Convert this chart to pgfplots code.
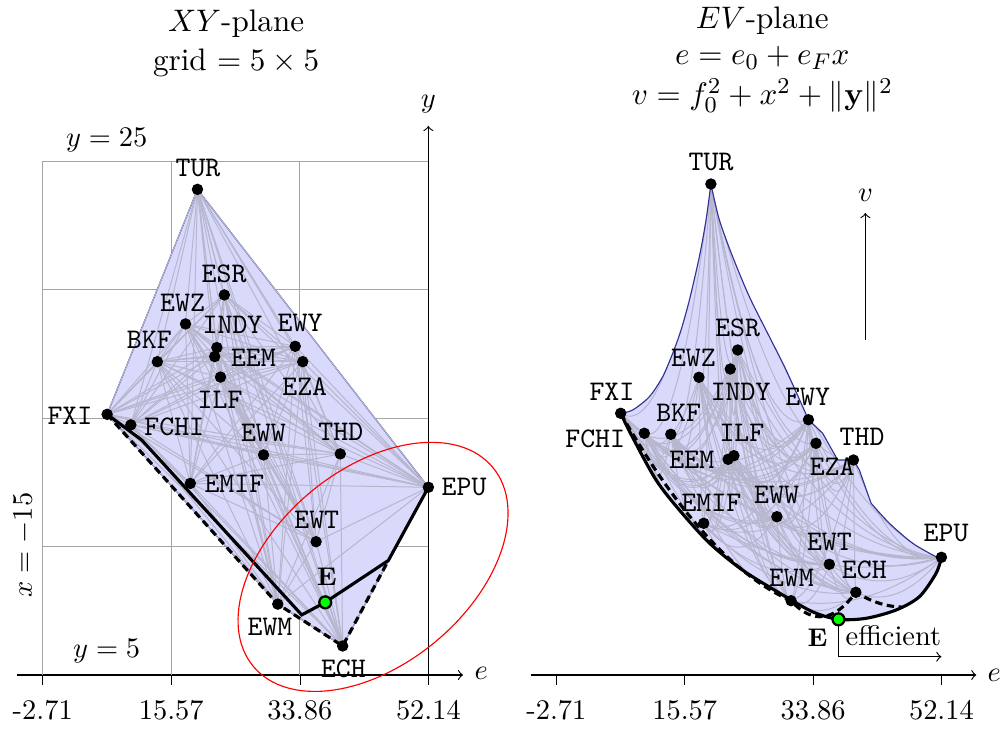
\documentclass[border=0pt]{standalone}
\usepackage{pgfplots}
\pgfplotsset{compat=1.18}
\usepackage{pgfplotstable}
\definecolor{hullfill}{RGB}{217,217,252}
\definecolor{hulldraw}{RGB}{50,50,150}
\definecolor{webc}{RGB}{182,182,205}
\definecolor{gridc}{RGB}{165,165,165}
\definecolor{Egreen}{RGB}{0,255,0}

% name, e (horizontal), y (XY-plane vertical), w (EV-plane vertical, v)
\pgfplotstableread{
name e y w
TUR 19.30 23.91 491
ESR 23.12 19.80 325
EWZ 17.60 18.67 297.7
INDY 22.06 17.75 306
EEM 21.75 17.40 215.7
BKF 13.59 17.20 240.7
ILF 22.58 16.60 219.3
EWY 33.20 17.80 255.3
EZA 34.27 17.20 231.7
FXI 6.45 15.15 261.7
FCHI 9.82 14.74 241.7
EWW 28.70 13.57 158.3
THD 39.61 13.61 215
EMIF 18.28 12.46 151.7
EPU 52.14 12.31 117.7
EWT 36.17 10.19 110.7
EWM 30.72 7.76 74.3
ECH 39.95 6.13 82.7
}\assets

\newcommand\getA[3]{\pgfplotstablegetelem{#1}{#2}\of{\assets}\let#3\pgfplotsretval}

\tikzset{lbl/.style={font=\ttfamily, inner sep=0pt},
  thickl/.style={black, line width=1.1pt},
  dashl/.style={black, line width=1.1pt, dash pattern=on 2.6pt off 1.6pt}}

\begin{document}
\begin{tikzpicture}
\path (0,0) rectangle (353.06pt,255.55pt);

% ================= LEFT: XY-plane =================
\begin{axis}[anchor=south west, at={(5.88pt,17.95pt)},
  x=2.475pt, y=9.04pt, xmin=-6.41, xmax=57.08, ymin=5, ymax=26.4,
  axis x line=bottom, axis y line=none, x axis line style={->},
  xtick={-2.71,15.57,33.86,52.14}, xticklabels={-2.71,15.57,33.86,52.14},
  tick align=outside, major tick length=3.5pt, xtick style={black},
  xticklabel shift=2pt,
  clip=false]
% grid
\draw[gridc] (-2.71,5) -- (-2.71,25);
\draw[gridc] (15.57,5) -- (15.57,25);
\draw[gridc] (33.86,5) -- (33.86,25);
\draw[gridc] (-2.71,10) -- (52.14,10);
\draw[gridc] (-2.71,15) -- (52.14,15);
\draw[gridc] (-2.71,20) -- (52.14,20);
\draw[gridc] (-2.71,25) -- (52.14,25);
\draw[->] (52.14,5) -- (52.14,26.38);
% hull
\addplot[fill=hullfill, draw=hulldraw, line width=0.4pt] coordinates {(6.45,15.15) (19.30,23.91) (52.14,12.31) (39.95,6.13) (30.72,7.76)} -- cycle;
% web
\foreach \i in {0,...,16}{
  \pgfmathtruncatemacro\js{\i+1}
  \foreach \j in {\js,...,17}{
    \getA{\i}{e}\ei \getA{\i}{y}\yi \getA{\j}{e}\ej \getA{\j}{y}\yj
    \edef\temp{\noexpand\draw[webc, line width=0.35pt] (axis cs:\ei,\yi) -- (axis cs:\ej,\yj);}\temp
  }
}
\coordinate (ellc) at (44.27,9.21);
% paths
\addplot[thickl] coordinates {(6.45,15.15) (11.37,14.15) (34.13,7.34) (37.47,7.83) (46.45,9.46) (52.14,12.31)};
\addplot[dashl] coordinates {(6.45,15.15) (30.72,7.76) (39.95,6.13) (46.45,9.46)};
% points
\addplot[only marks, mark=*, mark size=1.8pt, black] table[x=e,y=y]{\assets};
\addplot[only marks, mark=*, mark size=2.1pt, mark options={fill=Egreen, draw=black, line width=0.8pt}] coordinates {(37.47,7.83)};
% labels
\node[lbl] at (19.38,24.74) {TUR};
\node[lbl] at (23.08,20.64) {ESR};
\node[lbl] at (17.18,19.50) {EWZ};
\node[lbl] at (24.29,18.63) {INDY};
\node[lbl] at (33.89,18.70) {EWY};
\node[lbl] at (12.45,18.05) {BKF};
\node[lbl] at (27.25,17.36) {EEM};
\node[lbl] at (34.56,16.23) {EZA};
\node[lbl] at (22.51,15.71) {ILF};
\node[lbl] at (1.16,15.09) {FXI};
\node[lbl] at (16.00,14.67) {FCHI};
\node[lbl] at (28.68,14.41) {EWW};
\node[lbl] at (39.69,14.45) {THD};
\node[lbl] at (24.55,12.46) {EMIF};
\node[lbl] at (57.22,12.33) {EPU};
\node[lbl] at (36.26,11.04) {EWT};
\node[lbl] at (29.62,6.88) {EWM};
\node[lbl] at (40.05,5.23) {ECH};
\node[inner sep=0pt, font=\small\bfseries] at (37.69,8.83) {E};
% annotations
\node[inner sep=0pt] at (6.39,25.83) {$y=25$};
\node[inner sep=0pt] at (6.39,5.93) {$y=5$};
\node[inner sep=0pt, rotate=90] at (-5.37,10.06) {$x=-15$};
\node[inner sep=0pt] at (59.64,5.08) {$e$};
\node[inner sep=0pt] at (52.14,27.24) {$y$};
% title
\node[anchor=base, inner sep=0pt, font=\fontsize{10.95}{13.6}\selectfont] at (24.79,30.05) {$XY$-plane};
\node[anchor=base, inner sep=0pt, font=\fontsize{10.95}{13.6}\selectfont] at (24.79,28.55) {grid $=5\times5$};
\end{axis}
\draw[red, line width=0.4pt] (ellc) ellipse [x radius=54.8pt, y radius=34.3pt, rotate=39.7];

% ================= RIGHT: EV-plane =================
\begin{axis}[anchor=south west, at={(186.95pt,17.95pt)},
  x=2.471pt, y=0.352pt, xmin=-6.31, xmax=57.12, ymin=0, ymax=560,
  axis x line=bottom, axis y line=none, x axis line style={->},
  xtick={-2.71,15.57,33.86,52.14}, xticklabels={-2.71,15.57,33.86,52.14},
  tick align=outside, major tick length=3.5pt, xtick style={black},
  xticklabel shift=2pt,
  clip=false]
% hull fill
\addplot[fill=hullfill, draw=none] coordinates {
(6.45,261.7) (8.16,265) (10.54,278.3) (12.43,298.3) (13.86,321.7) (15.05,345)
(16.24,375) (17.66,418.3) (18.61,455) (19.30,491) (20.51,455) (22.40,418.3)
(24.78,378.3) (27.63,338.3) (30.01,305) (33.20,255.3) (35.22,241.7) (37.36,215)
(39.61,215) (40.45,205) (42.12,171.7) (44.73,151.7) (48.05,131.7) (51.38,118.3)
(52.14,117.7) (51.38,101.7) (49.0,78.3) (45.68,65) (41.41,56.7) (37.47,55.7)
(33.76,63.3) (29.06,82) (23.79,105) (19.08,132) (14.81,165) (11.49,195) (8.12,238)} -- cycle;
% web (parabolic arcs), clipped to the region
\begin{scope}
\clip (6.45,261.7) -- (8.16,265) -- (10.54,278.3) -- (12.43,298.3) -- (13.86,321.7) -- (15.05,345)
 -- (16.24,375) -- (17.66,418.3) -- (18.61,455) -- (19.30,491) -- (20.51,455) -- (22.40,418.3)
 -- (24.78,378.3) -- (27.63,338.3) -- (30.01,305) -- (33.20,255.3) -- (35.22,241.7) -- (37.36,215)
 -- (39.61,215) -- (40.45,205) -- (42.12,171.7) -- (44.73,151.7) -- (48.05,131.7) -- (51.38,118.3)
 -- (52.14,117.7) -- (51.38,101.7) -- (49.0,78.3) -- (45.68,65) -- (41.41,56.7) -- (37.47,55.7)
 -- (33.76,63.3) -- (29.06,82) -- (23.79,105) -- (19.08,132) -- (14.81,165) -- (11.49,195) -- (8.12,238) -- cycle;
\foreach \i in {0,...,16}{
  \pgfmathtruncatemacro\js{\i+1}
  \foreach \j in {\js,...,17}{
    \getA{\i}{e}\ei \getA{\i}{w}\wi \getA{\j}{e}\ej \getA{\j}{w}\wj
    \pgfmathsetmacro\Dd{\wi+\wj-1.3*sqrt(\wi)*sqrt(\wj)}
    \pgfmathsetmacro\ce{(\ei+\ej)/2}
    \pgfmathsetmacro\cw{(\wi+\wj)/2-\Dd/2}
    \pgfmathsetmacro\qxa{\ei+2/3*(\ce-\ei)}
    \pgfmathsetmacro\qya{\wi+2/3*(\cw-\wi)}
    \pgfmathsetmacro\qxb{\ej+2/3*(\ce-\ej)}
    \pgfmathsetmacro\qyb{\wj+2/3*(\cw-\wj)}
    \edef\temp{\noexpand\draw[webc, line width=0.35pt] (axis cs:\ei,\wi) .. controls (axis cs:\qxa,\qya) and (axis cs:\qxb,\qyb) .. (axis cs:\ej,\wj);}\temp
  }
}
\end{scope}
% upper boundary
\addplot[hulldraw, line width=0.4pt, smooth] coordinates {(6.45,261.7) (8.16,265) (10.54,278.3) (12.43,298.3) (13.86,321.7) (15.05,345) (16.24,375) (17.66,418.3) (18.61,455) (19.30,491)};
\addplot[hulldraw, line width=0.4pt, smooth] coordinates {(19.30,491) (20.51,455) (22.40,418.3) (24.78,378.3) (27.63,338.3) (30.01,305) (33.20,255.3)};
\addplot[hulldraw, line width=0.4pt] coordinates {(33.20,255.3) (35.22,241.7) (37.36,215) (39.61,215) (40.45,205) (42.12,171.7)};
\addplot[hulldraw, line width=0.4pt, smooth] coordinates {(42.12,171.7) (44.73,151.7) (48.05,131.7) (51.38,118.3) (52.14,117.7)};
% dashed (hull edges)
\draw[dashl] (6.45,261.7) .. controls (14.53,161.9) and (22.62,99.43) .. (30.72,74.3)
  .. controls (33.80,50.43) and (36.87,53.23) .. (39.95,82.7)
  .. controls (42.12,73.47) and (44.28,68.23) .. (46.45,68);
% frontier
\addplot[thickl, smooth] coordinates {(6.45,261.7) (8.12,238) (11.49,195) (14.81,165) (19.08,132) (23.79,105) (29.06,82) (33.76,63.3) (37.47,55.7) (41.41,56.7) (45.68,65) (49.0,78.3) (51.38,101.7) (52.14,117.7)};
% points
\addplot[only marks, mark=*, mark size=1.8pt, black] table[x=e,y=w]{\assets};
\addplot[only marks, mark=*, mark size=2.1pt, mark options={fill=Egreen, draw=black, line width=0.8pt}] coordinates {(37.47,55.7)};
% labels
\node[lbl] at (19.33,513.3) {TUR};
\node[lbl] at (23.12,346.7) {ESR};
\node[lbl] at (16.81,317.5) {EWZ};
\node[lbl] at (5.20,283.3) {FXI};
\node[lbl] at (23.54,283.3) {INDY};
\node[lbl] at (33.09,278.3) {EWY};
\node[lbl] at (14.71,261.7) {BKF};
\node[lbl] at (2.82,236) {FCHI};
\node[lbl] at (23.72,241.7) {ILF};
\node[lbl] at (40.84,238.3) {THD};
\node[lbl] at (16.59,215) {EEM};
\node[lbl] at (36.58,208.3) {EZA};
\node[lbl] at (19.37,171.7) {EMIF};
\node[lbl] at (28.66,180) {EWW};
\node[lbl] at (52.80,141.7) {EPU};
\node[lbl] at (36.18,133.3) {EWT};
\node[lbl] at (41.16,105) {ECH};
\node[lbl] at (30.77,96.7) {EWM};
\node[inner sep=0pt, font=\small\bfseries] at (34.51,36.7) {E};
\node[inner sep=0pt] at (45.30,39) {efficient};
\draw[->] (37.47,55.7) -- (37.47,18.3) -- (52.14,18.3);
\draw[->] (41.31,335) -- (41.31,462);
\node[inner sep=0pt] at (41.31,480) {$v$};
\node[inner sep=0pt] at (59.68,0) {$e$};
% title
\node[anchor=base, inner sep=0pt, font=\fontsize{10.95}{13.6}\selectfont] at (26.63,646.7) {$EV$-plane};
\node[anchor=base, inner sep=0pt, font=\fontsize{10.95}{13.6}\selectfont] at (26.63,610) {$e=e_0+e_Fx$};
\node[anchor=base, inner sep=0pt, font=\fontsize{10.95}{13.6}\selectfont] at (26.63,570) {$v=f_0^2+x^2+\|\mathbf{y}\|^2$};
\end{axis}
\end{tikzpicture}
\end{document}
